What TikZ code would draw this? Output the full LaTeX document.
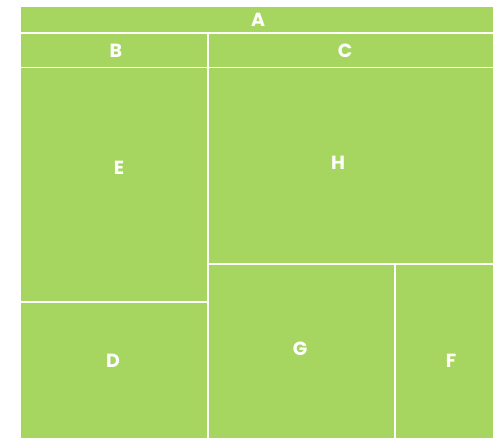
\documentclass[tikz,border=0pt]{standalone}
\usepackage{fontspec}
\setmainfont{Poppins}[BoldFont={* Bold}]
\definecolor{leaf}{HTML}{A7D660}
\tikzset{
  cell/.style={fill=leaf, draw=white, line width=1.5pt},
  lbl/.style={text=white, font=\fontsize{19}{21}\selectfont\bfseries, inner sep=0pt}
}
\begin{document}
\begin{tikzpicture}[x=1pt,y=-1pt]
\useasboundingbox (0,0) rectangle (493,438);
\begin{scope}
\clip (0,0) rectangle (493,438);
\path[cell] (20.3,6.3) rectangle (494,33);
\path[cell] (20.3,33) rectangle (208,67.5);
\path[cell] (208,33) rectangle (494,67.5);
\path[cell] (20.3,67.5) rectangle (208,302);
\path[cell] (20.3,302) rectangle (208,439);
\path[cell] (208,67.5) rectangle (494,264);
\path[cell] (208,264) rectangle (395,439);
\path[cell] (395,264) rectangle (494,439);
\end{scope}
\node[lbl] (a) at (258,20) {A};
\node[lbl] (b) at (116,51) {B};
\node[lbl] (c) at (345,51) {C};
\node[lbl] (e) at (119,168) {E};
\node[lbl] (h) at (338,163) {H};
\node[lbl] (d) at (113,361) {D};
\node[lbl] (g) at (300,349) {G};
\node[lbl] (f) at (451,361) {F};
\end{tikzpicture}
\end{document}
